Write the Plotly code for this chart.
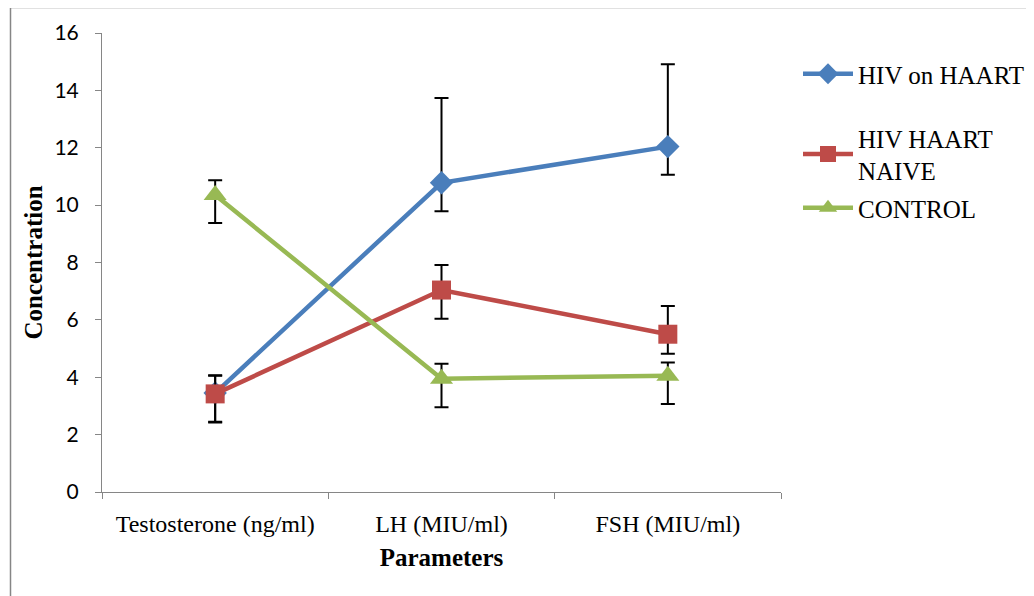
import plotly.graph_objects as go

categories = ["Testosterone (ng/ml)", "LH (MIU/ml)", "FSH (MIU/ml)"]
series_names = ["HIV on HAART", "HIV HAART<br>NAIVE", "CONTROL"]
haart = [3.45, 10.78, 12.04]
haart_plus = [0.6, 2.95, 2.87]
haart_minus = [1.0, 0.99, 0.98]
naive = [3.42, 7.04, 5.5]
naive_plus = [0.65, 0.87, 0.98]
naive_minus = [1.0, 1.0, 0.68]
control = [10.35, 3.95, 4.05]
control_plus = [0.52, 0.52, 0.46]
control_minus = [0.97, 1.0, 0.98]

colors = ["#4A7EBB", "#BE4B48", "#98B954"]
symbols = ["diamond", "square", "triangle-up"]
msizes = [18, 19, 20]
values = [haart, naive, control]
plus = [haart_plus, naive_plus, control_plus]
minus = [haart_minus, naive_minus, control_minus]
legends = ["legend", "legend2", "legend3"]

fig = go.Figure()
for i in range(3):
    fig.add_trace(go.Scatter(
        x=categories, y=values[i], name=series_names[i], mode="lines+markers",
        line=dict(color=colors[i], width=4.5),
        marker=dict(symbol=symbols[i], size=msizes[i], color=colors[i]),
        error_y=dict(type="data", symmetric=False, array=plus[i], arrayminus=minus[i],
                     color="black", thickness=2, width=7),
        legend=legends[i],
    ))

serif = "Liberation Serif"
leg_common = dict(font=dict(family=serif, size=25, color="black"), bgcolor="rgba(0,0,0,0)",
                  itemwidth=50, xanchor="left", yanchor="middle", borderwidth=0)

# screen-pixel helpers (plot area on screen: x 102..781, y 33..492)
def py(pix):
    return (492 - pix) / 459.0

def px(pix):
    return (pix - 102) / 679.0

OFF = 8  # page offset
fig.update_layout(
    width=1034, height=596,
    margin=dict(l=102 - OFF, r=1034 - (102 - OFF) - 679, t=33 - OFF, b=596 - (33 - OFF) - 459),
    paper_bgcolor="white", plot_bgcolor="white",
    showlegend=True,
    xaxis=dict(type="category", range=[-0.5, 2.5], showgrid=False, showline=True,
               linecolor="#868686", linewidth=1, ticks="outside", tickson="boundaries",
               ticklen=6, tickcolor="#868686", ticklabelstandoff=10,
               tickfont=dict(family=serif, size=24, color="black"),
               title=dict(text="<b>Parameters</b>", font=dict(family=serif, size=25, color="black"), standoff=12)),
    yaxis=dict(range=[0, 16], dtick=2, showgrid=False, showline=True, zeroline=False,
               linecolor="#868686", linewidth=1, ticks="outside", ticklen=6, tickcolor="#868686",
               ticklabelstandoff=12,
               tickfont=dict(family="Lato", size=21, color="black"),
               title=dict(text="<b>Concentration</b>", font=dict(family=serif, size=25, color="black"), standoff=4)),
    legend=dict(x=px(798), y=py(74), **leg_common),
    legend2=dict(x=px(798), y=py(154), **leg_common),
    legend3=dict(x=px(798), y=py(208), **leg_common),
    shapes=[dict(type="rect", xref="paper", yref="paper",
                 x0=px(10.5), x1=px(1050), y0=py(620), y1=py(7.5),
                 line=dict(color="#868686", width=1.5), fillcolor="rgba(0,0,0,0)", layer="below")],
)

fig.write_html("out.html")
